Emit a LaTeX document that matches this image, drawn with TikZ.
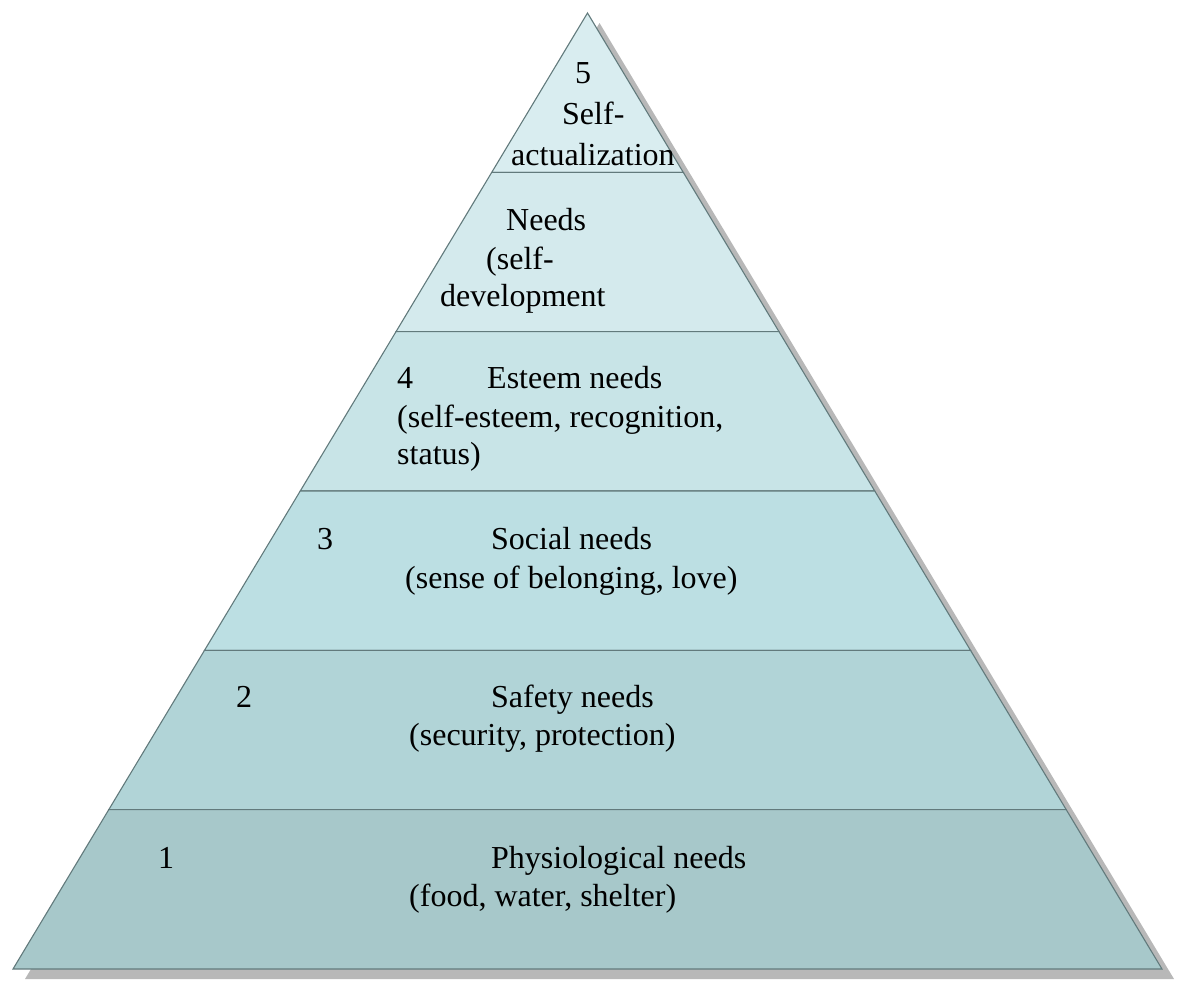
\documentclass[tikz,border=0pt]{standalone}
\usepackage{fontspec}
\setmainfont{Liberation Serif}
\definecolor{tierA}{HTML}{D9EDF0}
\definecolor{tierB}{HTML}{D4EAED}
\definecolor{tierC}{HTML}{C8E4E7}
\definecolor{tierD}{HTML}{BCDFE3}
\definecolor{tierE}{HTML}{B1D4D7}
\definecolor{tierF}{HTML}{A7C8CA}
\definecolor{edgeline}{HTML}{627A7C}
\definecolor{shadowgray}{HTML}{B8B8B8}
\tikzset{
  tier/.style={draw=edgeline, line width=1.1pt, line join=miter},
  tiertext/.style={inner sep=0pt, anchor=base west, font=\fontsize{32}{40}\selectfont, text=black},
}
\begin{document}
\begin{tikzpicture}[x=1pt,y=-1pt]
\useasboundingbox (0,0) rectangle (1183,980);
% corners of the pyramid and of its tiers
\coordinate (apex) at (587.5,13);
\coordinate (L1) at (491.75,172.33); \coordinate (R1) at (683.25,172.33);
\coordinate (L2) at (396,331.67);    \coordinate (R2) at (779,331.67);
\coordinate (L3) at (300.25,491);    \coordinate (R3) at (874.75,491);
\coordinate (L4) at (204.5,650.33);  \coordinate (R4) at (970.5,650.33);
\coordinate (L5) at (108.75,809.67); \coordinate (R5) at (1066.25,809.67);
\coordinate (L6) at (13,969);        \coordinate (R6) at (1162,969);
% drop shadow
\fill[shadowgray] ([shift={(12,10)}]apex) -- ([shift={(12,10)}]R6) -- ([shift={(12,10)}]L6) -- cycle;
% tiers, top to bottom
\filldraw[tier, fill=tierA] (apex) -- (R1) -- (L1) -- cycle;
\filldraw[tier, fill=tierB] (L1) -- (R1) -- (R2) -- (L2) -- cycle;
\filldraw[tier, fill=tierC] (L2) -- (R2) -- (R3) -- (L3) -- cycle;
\filldraw[tier, fill=tierD] (L3) -- (R3) -- (R4) -- (L4) -- cycle;
\filldraw[tier, fill=tierE] (L4) -- (R4) -- (R5) -- (L5) -- cycle;
\filldraw[tier, fill=tierF] (L5) -- (R5) -- (R6) -- (L6) -- cycle;
% tier 5
\node[tiertext] (t5n) at (575,83) {5};
\node[tiertext] (t5a) at (562,124) {Self-};
\node[tiertext] (t5b) at (511,165) {actualization};
\node[tiertext] (t5c) at (506,230) {Needs};
\node[tiertext] (t5d) at (486,269) {(self-};
\node[tiertext] (t5e) at (440,306) {development};
% tier 4
\node[tiertext] (t4n) at (397,388) {4};
\node[tiertext] (t4a) at (487,388) {Esteem needs};
\node[tiertext] (t4b) at (397,427) {(self-esteem, recognition,};
\node[tiertext] (t4c) at (397,464) {status)};
% tier 3
\node[tiertext] (t3n) at (317,549) {3};
\node[tiertext] (t3a) at (491,549) {Social needs};
\node[tiertext] (t3b) at (405,588) {(sense of belonging, love)};
% tier 2
\node[tiertext] (t2n) at (236,707) {2};
\node[tiertext] (t2a) at (491,707) {Safety needs};
\node[tiertext] (t2b) at (409,745) {(security, protection)};
% tier 1
\node[tiertext] (t1n) at (158,868) {1};
\node[tiertext] (t1a) at (491,868) {Physiological needs};
\node[tiertext] (t1b) at (409,906) {(food, water, shelter)};
\end{tikzpicture}
\end{document}
